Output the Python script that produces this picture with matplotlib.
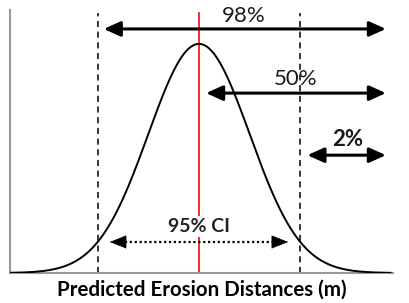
import numpy as np
import matplotlib.pyplot as plt

# distribution (standardised units)
mean = 0.0
sd = 1.0
x_range = [-3.73, 3.78]
ci_bounds = [-2.0, 2.0]

# exceedance arrows: label, start x, end x, arrow y (axes frac), label x, label baseline y, weight
arrow_labels = ['98%', '50%', '2%']
arrow_start = [-1.88, 0.14, 2.14]
arrow_end = [3.69, 3.69, 3.69]
arrow_y = [0.928, 0.684, 0.448]
label_x = [0.88, 1.90, 2.94]
label_y = [0.956, 0.713, 0.481]
label_weight = ['normal', 'normal', 'bold']

ci_label = '95% CI'
ci_arrow = [-1.76, 1.76]
ci_y = 0.118
ci_label_y = 0.156

plt.rcParams['font.family'] = ['Lato', 'DejaVu Sans']

fig = plt.figure(figsize=(4.09, 3.03), dpi=100)
ax = fig.add_axes([10 / 409, 30 / 303, 383 / 409, 263 / 303])

x = np.linspace(x_range[0], x_range[1], 500)
y = np.exp(-0.5 * ((x - mean) / sd) ** 2)
ax.plot(x, y, color='black', lw=1.4, zorder=3)

ax.set_xlim(x_range[0], x_range[1] + 0.05)
ax.set_ylim(0, 1.148)

trans = ax.get_xaxis_transform()

for b in ci_bounds:
    ax.axvline(b, color='black', lw=1.1, ls=(0, (4, 3)), ymax=0.99, zorder=2)
ax.axvline(mean, color='red', lw=1.2, ymax=0.99, zorder=1)

for lab, xs, xe, ay, lx, ly, w in zip(arrow_labels, arrow_start, arrow_end, arrow_y,
                                       label_x, label_y, label_weight):
    ax.annotate('', xy=(xe, ay), xytext=(xs, ay), xycoords=trans, textcoords=trans,
                arrowprops=dict(arrowstyle='<|-|>,head_length=1.0,head_width=0.45',
                                color='black', lw=2.2, shrinkA=0, shrinkB=0,
                                mutation_scale=10), zorder=4)
    ax.text(lx, ly, lab, transform=trans, ha='center', va='baseline',
            fontsize=16, fontweight=w, color='#1a1a1a', zorder=5)

# 95% CI dotted arrow: dotted shaft + solid heads
ax.plot([ci_arrow[0] + 0.2, ci_arrow[1] - 0.2], [ci_y, ci_y], transform=trans,
        color='black', lw=1.6, ls=(0, (1, 1.2)), zorder=4)
for xa, d in [(ci_arrow[0], 0.25), (ci_arrow[1], -0.25)]:
    ax.annotate('', xy=(xa, ci_y), xytext=(xa + d, ci_y), xycoords=trans, textcoords=trans,
                arrowprops=dict(arrowstyle='-|>,head_length=1.0,head_width=0.4',
                                color='black', lw=0.5, shrinkA=0, shrinkB=0,
                                mutation_scale=11), zorder=4)
ax.text(mean, ci_label_y, ci_label, transform=trans, ha='center', va='baseline',
        fontsize=14, fontweight='bold', color='#222222', zorder=5,
        bbox=dict(facecolor='white', edgecolor='none', pad=1.5))

for s in ['top', 'right']:
    ax.spines[s].set_visible(False)
for s in ['left', 'bottom']:
    ax.spines[s].set_color('#999999')
    ax.spines[s].set_linewidth(1.5)
ax.set_xticks([])
ax.set_yticks([])

ax.set_xlabel('Predicted Erosion Distances (m)', fontsize=14.8, fontweight='bold',
              labelpad=5)

plt.savefig('out.png', dpi=100)
